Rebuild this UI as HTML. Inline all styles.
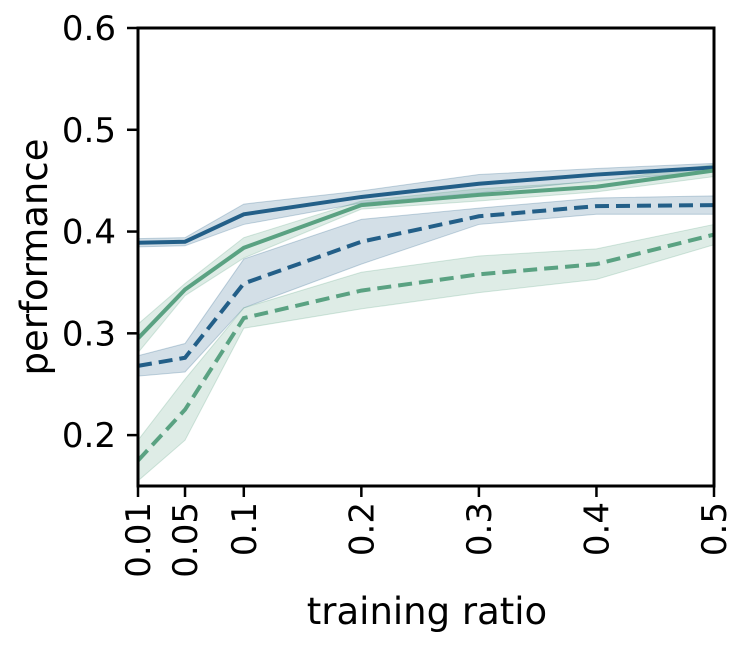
<!DOCTYPE html>
<html><head><meta charset="utf-8"><style>
html,body{margin:0;padding:0;background:#fff;}
svg{display:block;font-family:"DejaVu Sans","Liberation Sans",sans-serif;}
</style></head><body>
<svg id="chart" width="747" height="647">
<g id="bands"></g>
<g id="lines"></g>
<g id="axes"></g>
</svg>
<script>
const xValues=[0.01,0.05,0.1,0.2,0.3,0.4,0.5];
const xTickLabels=["0.01","0.05","0.1","0.2","0.3","0.4","0.5"];
const yTicks=[0.2,0.3,0.4,0.5,0.6];
const yTickLabels=["0.2","0.3","0.4","0.5","0.6"];
const blueSolid=[0.389,0.390,0.417,0.434,0.447,0.456,0.463];
const blueSolidErr=[0.004,0.004,0.010,0.006,0.009,0.006,0.004];
const greenSolid=[0.295,0.343,0.384,0.426,0.436,0.444,0.460];
const greenSolidErr=[0.014,0.006,0.010,0.004,0.006,0.005,0.006];
const blueDashed=[0.268,0.276,0.349,0.390,0.415,0.425,0.426];
const blueDashedErr=[0.010,0.014,0.024,0.022,0.008,0.008,0.009];
const greenDashed=[0.175,0.225,0.315,0.342,0.358,0.368,0.397];
const greenDashedErr=[0.020,0.030,0.010,0.018,0.018,0.015,0.010];

const L=138,R=714,T=28,B=486,yMin=0.15,yMax=0.6;
const xs=v=>L+(v-0.01)/(0.5-0.01)*(R-L);
const ys=v=>B-(v-yMin)/(yMax-yMin)*(B-T);
const NS="http://www.w3.org/2000/svg";
function mk(tag,parent,attrs){const e=document.createElementNS(NS,tag);for(const k in attrs)e.setAttribute(k,attrs[k]);parent.appendChild(e);return e;}
const bands=document.getElementById('bands'),lines=document.getElementById('lines'),axes=document.getElementById('axes');
const series=[
 {name:'blue-solid',v:blueSolid,e:blueSolidErr,c:'#235f88',d:''},
 {name:'green-solid',v:greenSolid,e:greenSolidErr,c:'#5aa282',d:''},
 {name:'blue-dashed',v:blueDashed,e:blueDashedErr,c:'#235f88',d:'14,7'},
 {name:'green-dashed',v:greenDashed,e:greenDashedErr,c:'#5aa282',d:'14,7'}];
series.forEach(s=>{
 let up=s.v.map((v,i)=>xs(xValues[i])+','+ys(v+s.e[i]));
 let lo=s.v.map((v,i)=>xs(xValues[i])+','+ys(v-s.e[i])).reverse();
 const p=mk('polygon',bands,{points:up.concat(lo).join(' '),fill:s.c,'fill-opacity':0.2,stroke:s.c,'stroke-opacity':0.25});
 
 
 const l=mk('polyline',lines,{points:s.v.map((v,i)=>xs(xValues[i])+','+ys(v)).join(' '),fill:'none',stroke:s.c,'stroke-width':4,'stroke-dasharray':s.d});
 
 
});
const fr=mk('rect',axes,{x:L,y:T,width:R-L,height:B-T,fill:'none',stroke:'#000','stroke-width':3});


yTicks.forEach((v,i)=>{
 mk('line',axes,{x1:L-11,x2:L,y1:ys(v),y2:ys(v),stroke:'#000','stroke-width':2.5});
 const t=mk('text',axes,{x:L-22,y:ys(v)+12,'text-anchor':'end','font-size':34});
 t.textContent=yTickLabels[i];
 
 
});
xValues.forEach((v,i)=>{
 const x=xs(v);
 mk('line',axes,{x1:x,x2:x,y1:B,y2:B+11,stroke:'#000','stroke-width':2.5});
 const t=mk('text',axes,{x:0,y:0,'text-anchor':'end','font-size':34,transform:`translate(${x+12},${B+16}) rotate(-90)`});
 t.textContent=xTickLabels[i];
 
 
});
const yt=mk('text',axes,{x:0,y:0,'text-anchor':'middle','font-size':37,transform:`translate(47,${(T+B)/2}) rotate(-90)`});
yt.textContent='performance';


const xt=mk('text',axes,{x:(L+R)/2+1,y:624,'text-anchor':'middle','font-size':37});
xt.textContent='training ratio';


</script>
</body></html>
